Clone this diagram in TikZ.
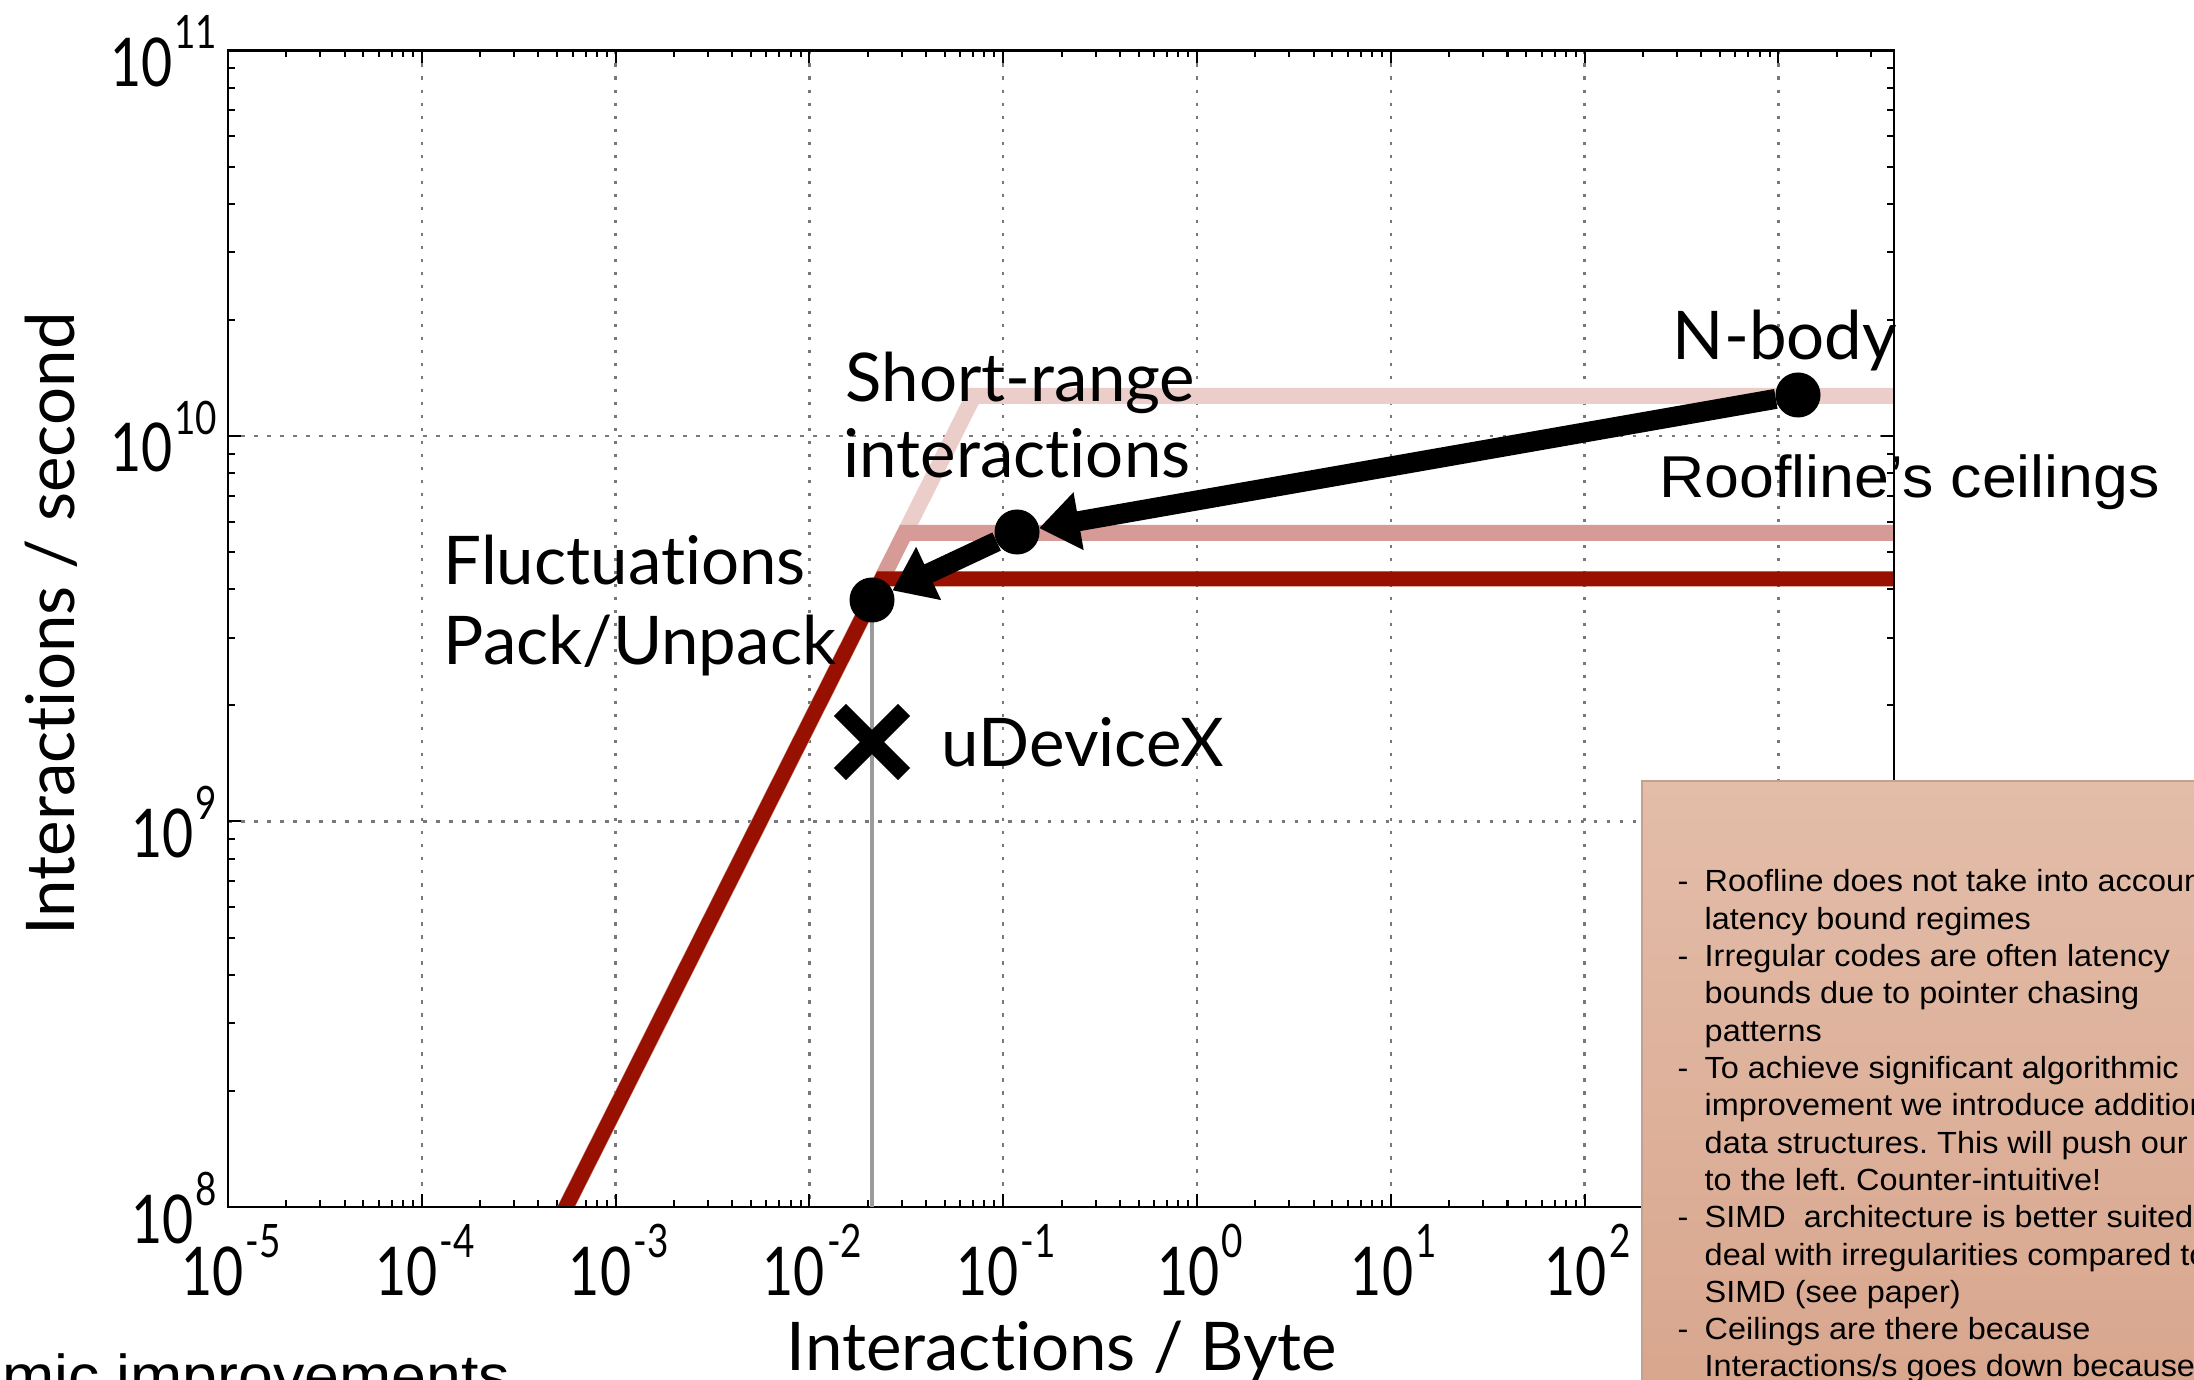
\documentclass[tikz,border=0pt]{standalone}
\usepackage{fontspec}
\setmainfont{Liberation Sans}
\newfontfamily\dinfont[Ligatures={NoCommon,NoRare}]{Lato}
\newfontfamily\dintick[FakeStretch=0.8]{Lato}
\newfontfamily\notefont[FakeStretch=1.06]{Liberation Sans}
\usetikzlibrary{arrows.meta}
\frenchspacing

\definecolor{roofdark}{RGB}{152,16,0}
\definecolor{roofmid}{RGB}{214,155,150}
\definecolor{rooflight}{RGB}{235,205,201}
\definecolor{gridgray}{RGB}{120,120,120}
\definecolor{guidegray}{RGB}{155,155,155}
\definecolor{notetop}{RGB}{227,189,169}
\definecolor{notebot}{RGB}{216,165,140}
\definecolor{notebord}{RGB}{196,160,144}

% power-of-ten tick label: "10" with a raised exponent
\newcommand\tenpow[1]{{\dintick\fontsize{19.1}{20}\selectfont 10}\kern0.6pt\raisebox{10.8pt}{\dintick\fontsize{13.1}{14}\selectfont #1}}

\tikzset{
  gridline/.style={gridgray, line width=0.025cm, dash pattern=on 0.035cm off 0.095cm},
  tickmark/.style={black, line width=0.02cm},
  frame/.style={black, line width=0.028cm},
  dot/.style={circle, fill=black, minimum size=0.45cm, inner sep=0pt, outer sep=0pt},
  markbox/.style={rectangle, minimum size=0.64cm, inner sep=0pt, outer sep=0pt},
  xstroke/.style={black, line width=0.17cm},
  trend/.style={black, line width=0.20cm, -{Triangle[length=0.40cm,width=0.56cm]}},
  plotlabel/.style={anchor=base west, inner sep=0pt, font=\dinfont\fontsize{19.1}{22}\selectfont},
  ticklabel/.style={inner sep=0pt},
  notetext/.style={anchor=base west, inner sep=0pt, font=\notefont\fontsize{8.7}{10}\selectfont},
  bigtext/.style={inner sep=0pt, font=\notefont\fontsize{16.8}{19}\selectfont},
}

\begin{document}
\begin{tikzpicture}[x=0.01cm, y=-0.01cm]
\useasboundingbox (0,0) rectangle (2194,1380);
\clip (0,0) rectangle (2194,1380);
\fill[white] (0,0) rectangle (2194,1380);

% grid
\foreach \k in {1,...,8}
  \draw[gridline] ({228+193.8*\k},50.5) -- ({228+193.8*\k},1207);
\foreach \yy in {436,821.5}
  \draw[gridline] (228,\yy) -- (1894,\yy);

% ticks and ceilings, kept inside the axes
\begin{scope}
  \clip (228,50.5) rectangle (1894,1207);
  \foreach \k in {0,...,8} {
    \draw[tickmark] ({228+193.8*\k},1207) -- ++(0,-13);
    \draw[tickmark] ({228+193.8*\k},50.5) -- ++(0,13);
    \foreach \m in {2,...,9} {
      \draw[tickmark] ({228+193.8*(\k+log10(\m))},1207) -- ++(0,-7);
      \draw[tickmark] ({228+193.8*(\k+log10(\m))},50.5) -- ++(0,7);
    }
  }
  \foreach \j in {0,...,3} {
    \draw[tickmark] (228,{1207-385.5*\j}) -- ++(13,0);
    \draw[tickmark] (1894,{1207-385.5*\j}) -- ++(-13,0);
  }
  \foreach \j in {0,...,2} {
    \foreach \m in {2,...,9} {
      \draw[tickmark] (228,{1207-385.5*(\j+log10(\m))}) -- ++(7,0);
      \draw[tickmark] (1894,{1207-385.5*(\j+log10(\m))}) -- ++(-7,0);
    }
  }

  % roofline ceilings
  \draw[rooflight, line width=0.16cm] (554.4,1230) -- (973.7,396) -- (1910,396);
  \draw[roofmid, line width=0.16cm] (554.4,1230) -- (904.9,533) -- (1910,533);
  \draw[roofdark, line width=0.15cm] (554.4,1230) -- (881.7,579) -- (1910,579);
\end{scope}

% axes box
\draw[frame] (228,50.5) rectangle (1894,1207);

% tick labels
\foreach \e [count=\k from 0] in {-5,-4,-3,-2,-1,0,1,2}
  \node[ticklabel, anchor=base] (xt\k) at ({231+193.8*\k},1295) {\tenpow{\e}};
\foreach \e/\yy in {11/50.5,10/436,9/821.5,8/1207}
  \node[ticklabel, anchor=base east] (yt\e) at (218,{\yy+36}) {\tenpow{\e}};

% axis titles
\node[anchor=base, inner sep=0pt, font=\dinfont\fontsize{19.1}{22}\selectfont] (xlab) at (1062,1370) {Interactions / Byte};
\node[anchor=base, rotate=90, inner sep=0pt, font=\dinfont\fontsize{19.1}{22}\selectfont] (ylab) at (74,624) {Interactions / second};

% measured points
\coordinate (flc) at (872,600);
\coordinate (flfoot) at (872,1207);
\draw[guidegray, line width=0.04cm] (flc) -- (flfoot);
\node[markbox] (udx) at (872,742) {};
\draw[xstroke] (udx.north west) -- (udx.south east);
\draw[xstroke] (udx.south west) -- (udx.north east);
\node[dot] (fl) at (flc) {};
\node[dot] (sr) at (1017,532) {};
\node[dot] (nb) at (1798,395) {};
\draw[trend] (nb) -- (sr);
\draw[trend] (sr) -- (fl);

% point labels
\node[plotlabel] (nblab) at (1672,360) {N-body};
\node[plotlabel] (srlab1) at (845,402) {Short-range};
\node[plotlabel] (srlab2) at (843,478) {interactions};
\node[plotlabel] (fllab1) at (443,585) {Fluctuations};
\node[plotlabel] (fllab2) at (443,665) {Pack/Unpack};
\node[plotlabel] (udxlab) at (941,767) {uDeviceX};

% annotations
\node[bigtext, anchor=base west] (ceil) at (1659,498) {Roofline’s ceilings};
\node[bigtext, anchor=base east] (algo) at (511,1396) {algorithmic improvements};

% note panel
\shade[top color=notetop, bottom color=notebot] (1642,781) rectangle (2230,1420);
\draw[notebord, line width=0.015cm] (2230,781) -- (1642,781) -- (1642,1420);
\foreach \notetxt [count=\i] in {
  {Roofline does not take into account},
  {latency bound regimes},
  {Irregular codes are often latency},
  {bounds due to pointer chasing},
  {patterns},
  {To achieve significant algorithmic},
  {improvement we introduce additional},
  {data structures. This will push our},
  {to the left. Counter-intuitive!},
  {SIMD\ \ architecture is better suited},
  {deal with irregularities compared to},
  {SIMD (see paper)},
  {Ceilings are there because},
  {Interactions/s goes down because}}
  \node[notetext] (note\i) at (1704,{892+37.3*(\i-1)}) {\notetxt};
\foreach \i in {1,3,6,10,13}
  \node[notetext] (dash\i) at (1677,{892+37.3*(\i-1)}) {-};
\end{tikzpicture}
\end{document}
